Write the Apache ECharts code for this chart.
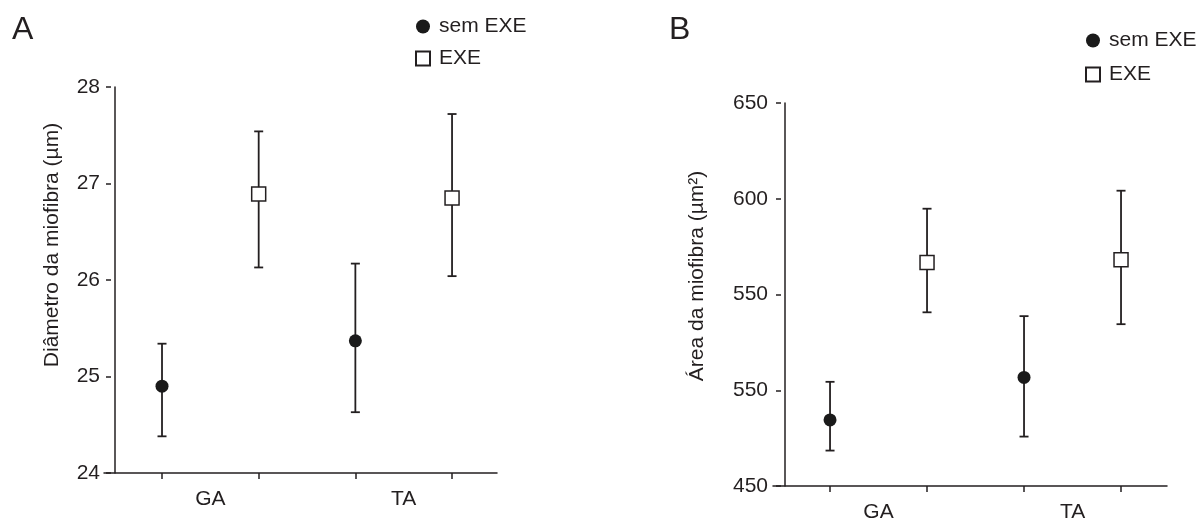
<!DOCTYPE html>
<html><head><meta charset="utf-8">
<script src="https://cdn.jsdelivr.net/npm/echarts@6/dist/echarts.min.js"></script>
<style>html,body{margin:0;padding:0;background:#fff}#c{width:1197px;height:523px}</style>
</head><body><div id="c"></div>
<script>
// ---------- data ----------
const categories = ['GA', 'TA'];
const groups = ['sem EXE', 'EXE'];

// Panel A: Diâmetro da miofibra (µm)
const diamTickValues = [24, 25, 26, 27, 28];
const diamSemMean  = [24.90, 25.37];
const diamSemUpper = [25.34, 26.17];
const diamSemLower = [24.38, 24.63];
const diamExeMean  = [26.89, 26.85];
const diamExeUpper = [27.54, 27.72];
const diamExeLower = [26.13, 26.04];

// Panel B: Área da miofibra (µm²)  (tick labels as printed in the original)
const areaTickValues = [450, 500, 550, 600, 650];
const areaTickLabels = ['450', '550', '550', '600', '650'];
const areaSemMean  = [484.5, 506.7];
const areaSemUpper = [504.4, 538.7];
const areaSemLower = [468.5, 475.8];
const areaExeMean  = [566.7, 568.1];
const areaExeUpper = [594.8, 604.2];
const areaExeLower = [540.7, 534.5];

// ---------- helpers ----------
const FONT = '"Liberation Sans", Arial, Helvetica, sans-serif';
const INK = '#231f20';
const pos = (g, s) => 1 + 2 * g + s;            // slot on the x axis
const pts = (mean, s) => mean.map((v, g) => [pos(g, s), v]);
const errs = (lo, hi, s) => lo.map((v, g) => [pos(g, s), v, hi[g]]);

function errRender(params, api) {
  const x = api.value(0), lo = api.value(1), hi = api.value(2);
  const p1 = api.coord([x, hi]), p2 = api.coord([x, lo]);
  const hw = 4.5;
  const style = { stroke: INK, lineWidth: 1.8, fill: null };
  return { type: 'group', children: [
    { type: 'line', shape: { x1: p1[0], y1: p1[1], x2: p2[0], y2: p2[1] }, style },
    { type: 'line', shape: { x1: p1[0] - hw, y1: p1[1], x2: p1[0] + hw, y2: p1[1] }, style },
    { type: 'line', shape: { x1: p2[0] - hw, y1: p2[1], x2: p2[0] + hw, y2: p2[1] }, style }
  ]};
}

function xAxisCfg(gi, min, max) {
  return {
    type: 'value', gridIndex: gi, min: min, max: max, position: 'bottom',
    axisLine: { show: true, lineStyle: { color: INK, width: 1.5 } },
    axisTick: { show: true, length: 6, customValues: [1, 2, 3, 4], lineStyle: { color: INK, width: 1.5 } },
    axisLabel: { show: true, margin: 16, customValues: [1.5, 3.5],
      formatter: v => categories[Math.round((v - 1.5) / 2)],
      color: INK, fontSize: 21, fontFamily: FONT },
    splitLine: { show: false }
  };
}
function yLineCfg(gi, min, max, off) {
  return {
    type: 'value', gridIndex: gi, min: min, max: max, offset: off, position: 'left',
    axisLine: { show: true, lineStyle: { color: INK, width: 1.5 } },
    axisTick: { show: false }, axisLabel: { show: false }, splitLine: { show: false }
  };
}
function yTickCfg(gi, min, max, interval, off, margin, fmt) {
  return {
    type: 'value', gridIndex: gi, min: min, max: max, interval: interval, offset: off, position: 'left',
    axisLine: { show: false },
    axisTick: { show: true, length: 5, lineStyle: { color: INK, width: 1.5 } },
    axisLabel: { show: true, margin: margin, color: INK, fontSize: 21, fontFamily: FONT, formatter: fmt },
    splitLine: { show: false }
  };
}
function scatterSeries(name, data, xi, yi, s) {
  return {
    type: 'scatter', name: name, xAxisIndex: xi, yAxisIndex: yi, z: 5,
    symbol: s === 0 ? 'circle' : 'rect',
    symbolSize: s === 0 ? 13 : 14,
    itemStyle: s === 0
      ? { color: '#1a1a1a', opacity: 1 }
      : { color: '#ffffff', borderColor: INK, borderWidth: 1.5, opacity: 1 },
    data: data
  };
}
function errSeries(name, data, xi, yi) {
  return { type: 'custom', name: name + ' err', xAxisIndex: xi, yAxisIndex: yi, z: 2,
    renderItem: errRender, encode: { x: 0, y: [1, 2] }, data: data };
}
function legendCfg(left, top, gap) {
  return {
    data: groups, orient: 'vertical', left: left, top: top, padding: 0,
    itemWidth: 14, itemHeight: 14, itemGap: gap, selectedMode: false,
    textStyle: { color: INK, fontSize: 21, fontFamily: FONT, padding: [0, 0, 0, 4] }
  };
}

const chart = echarts.init(document.getElementById('c'), null, { renderer: 'canvas' });
chart.setOption({
  animation: false,
  backgroundColor: '#ffffff',
  grid: [
    { left: 104, top: 87, width: 393, height: 386 },
    { left: 773, top: 103, width: 394, height: 385 }
  ],
  xAxis: [ xAxisCfg(0, 0.4, 4.465), xAxisCfg(1, 0.412, 4.474) ],
  yAxis: [
    yLineCfg(0, diamTickValues[0], diamTickValues[4], -11),
    yTickCfg(0, diamTickValues[0], diamTickValues[4], 1, -7, 11, v => String(v)),
    yLineCfg(1, areaTickValues[0], areaTickValues[4], -12),
    yTickCfg(1, areaTickValues[0], areaTickValues[4], 50, -8, 13,
      v => areaTickLabels[areaTickValues.indexOf(v)])
  ],
  legend: [ legendCfg(415, 16, 11), legendCfg(1085, 30, 13) ],
  graphic: [
    { type: 'text', left: 12, top: 14, style: { text: 'A', font: '32px ' + FONT, fill: INK } },
    { type: 'text', left: 669, top: 14, style: { text: 'B', font: '32px ' + FONT, fill: INK } },
    { type: 'text', x: 52, y: 245, rotation: Math.PI / 2,
      style: { text: 'Diâmetro da miofibra (µm)', font: '21px ' + FONT, fill: INK,
        textAlign: 'center', textVerticalAlign: 'middle' } },
    { type: 'text', x: 697, y: 276, rotation: Math.PI / 2,
      style: { text: 'Área da miofibra (µm²)', font: '21px ' + FONT, fill: INK,
        textAlign: 'center', textVerticalAlign: 'middle' } }
  ],
  series: [
    errSeries(groups[0], errs(diamSemLower, diamSemUpper, 0), 0, 0),
    errSeries(groups[1], errs(diamExeLower, diamExeUpper, 1), 0, 0),
    scatterSeries(groups[0], pts(diamSemMean, 0), 0, 0, 0),
    scatterSeries(groups[1], pts(diamExeMean, 1), 0, 0, 1),
    errSeries(groups[0], errs(areaSemLower, areaSemUpper, 0), 1, 2),
    errSeries(groups[1], errs(areaExeLower, areaExeUpper, 1), 1, 2),
    scatterSeries(groups[0], pts(areaSemMean, 0), 1, 2, 0),
    scatterSeries(groups[1], pts(areaExeMean, 1), 1, 2, 1)
  ]
});
</script>
</body></html>
